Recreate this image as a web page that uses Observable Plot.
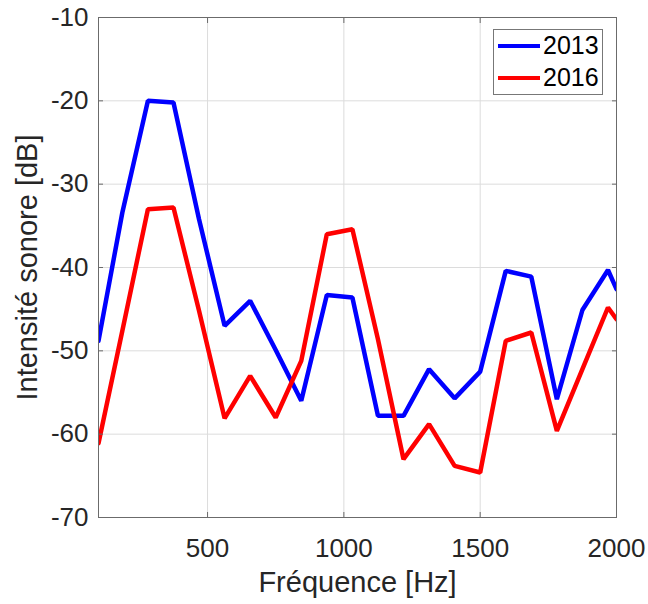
<!DOCTYPE html>
<html>
<head>
<meta charset="utf-8">
<script src="https://cdn.jsdelivr.net/npm/d3@7"></script>
<script src="https://cdn.jsdelivr.net/npm/@observablehq/plot@0.6"></script>
<style>
  html, body { margin: 0; padding: 0; background: #fff; }
  #wrap { position: relative; width: 648px; height: 604px; font-family: "Liberation Sans", Arial, sans-serif; }
  #wrap svg g[aria-label="x-axis label"] text,
  #wrap svg g[aria-label="y-axis label"] text { font-size: 29px; }
  #legend { position: absolute; left: 493px; top: 29px; width: 110px; height: 66px;
            border: 1px solid #777; background: #fff; box-sizing: border-box; }
  .lg { position: absolute; left: 4px; display: flex; align-items: center; font-size: 25px; color: #000; }
  .lg span.sw { display: inline-block; width: 42px; height: 4px; margin-right: 3px; }
</style>
</head>
<body>
<div id="wrap"></div>
<script>
const freq = [100, 187.5, 281.25, 375, 468.75, 562.5, 656.25, 750, 843.75, 937.5, 1031.25, 1125, 1218.75, 1312.5, 1406.25, 1500, 1593.75, 1687.5, 1781.25, 1875, 1968.75, 2000];
const s2013 = [-48.8, -33.4, -20.0, -20.2, -34.2, -47.0, -44.0, -49.9, -56.0, -43.3, -43.6, -57.8, -57.8, -52.2, -55.7, -52.5, -40.4, -41.1, -55.8, -45.1, -40.3, -42.6];
const s2016 = [-61.1, -47.6, -33.0, -32.8, -45.2, -58.1, -53.0, -58.0, -51.2, -36.0, -35.4, -48.6, -63.0, -58.8, -63.8, -64.6, -48.8, -47.8, -59.6, -52.2, -44.8, -46.2];
const seriesNames = ["2013", "2016"];
const seriesColors = ["#0000ff", "#ff0000"];
const xTicks = [500, 1000, 1500, 2000];
const yTicks = [-70, -60, -50, -40, -30, -20, -10];

const data = [];
freq.forEach((f, i) => {
  data.push({freq: f, db: s2013[i], year: seriesNames[0]});
  data.push({freq: f, db: s2016[i], year: seriesNames[1]});
});

const fmt = d => String(d);

const chart = Plot.plot({
  width: 648,
  height: 604,
  marginLeft: 98,
  marginRight: 32,
  marginTop: 17,
  marginBottom: 87,
  style: {fontFamily: "'Liberation Sans', Arial, sans-serif", fontSize: "26px", color: "#262626", background: "#fff"},
  x: {domain: [100, 2000], labelArrow: "none"},
  y: {domain: [-70, -10], labelArrow: "none"},
  color: {domain: seriesNames, range: seriesColors},
  marks: [
    Plot.gridX(xTicks, {stroke: "#dcdcdc", strokeOpacity: 1}),
    Plot.gridY(yTicks, {stroke: "#dcdcdc", strokeOpacity: 1}),
    Plot.line(data, {x: "freq", y: "db", stroke: "year", z: "year", strokeWidth: 4.5, strokeLinejoin: "miter", clip: true}),
    Plot.frame({stroke: "#6b6b6b"}),
    Plot.axisX(xTicks, {anchor: "bottom", tickSize: 0, tickPadding: 21, tickFormat: fmt, label: "Fréquence [Hz]", labelArrow: "none", labelAnchor: "center", labelOffset: 74, fill: "#262626"}),
    Plot.axisX(xTicks, {anchor: "bottom", tickSize: -5, tickFormat: () => "", label: null, stroke: "#6b6b6b"}),
    Plot.axisX(xTicks, {anchor: "top", tickSize: -5, tickFormat: () => "", label: null, stroke: "#6b6b6b"}),
    Plot.axisY(yTicks, {anchor: "left", tickSize: 0, tickPadding: 10, tickFormat: fmt, label: "Intensité sonore [dB]", labelArrow: "none", labelAnchor: "center", labelOffset: 82, fill: "#262626"}),
    Plot.axisY(yTicks, {anchor: "left", tickSize: -5, tickFormat: () => "", label: null, stroke: "#6b6b6b"}),
    Plot.axisY(yTicks, {anchor: "right", tickSize: -5, tickFormat: () => "", label: null, stroke: "#6b6b6b"})
  ]
});

const wrap = document.getElementById("wrap");
wrap.appendChild(chart);

const legend = document.createElement("div");
legend.id = "legend";
seriesNames.forEach((name, i) => {
  const row = document.createElement("div");
  row.className = "lg";
  row.style.top = (i === 0 ? 1 : 33) + "px";
  const sw = document.createElement("span");
  sw.className = "sw";
  sw.style.background = seriesColors[i];
  row.appendChild(sw);
  row.appendChild(document.createTextNode(name));
  legend.appendChild(row);
});
wrap.appendChild(legend);
</script>
</body>
</html>
